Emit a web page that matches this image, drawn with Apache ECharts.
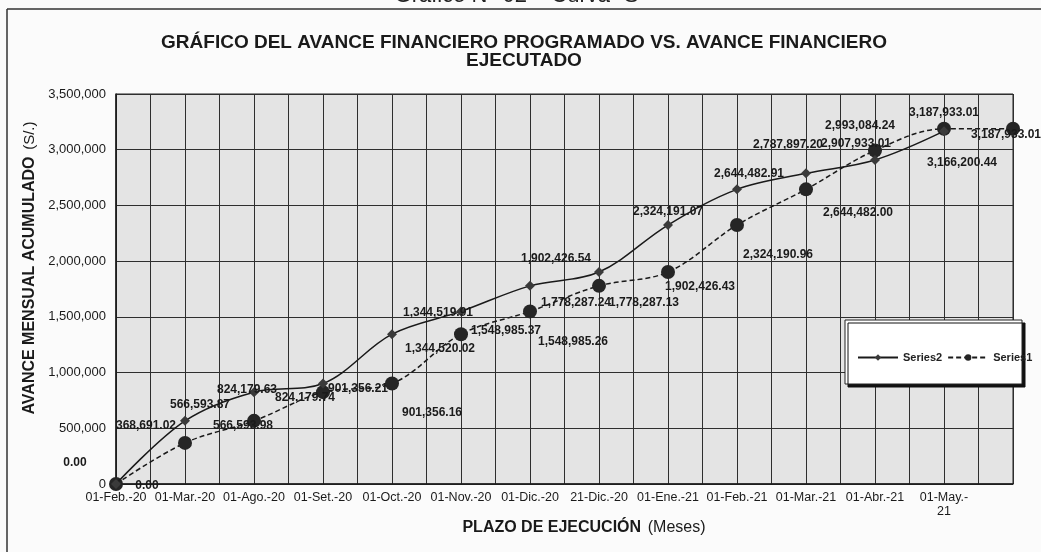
<!DOCTYPE html>
<html>
<head>
<meta charset="utf-8">
<script src="https://cdn.jsdelivr.net/npm/echarts@6/dist/echarts.min.js"></script>
<style>
    html, body { margin: 0; padding: 0; background: #fbfbfb; }
    #chart { width: 1041px; height: 552px; }
</style>
</head>
<body>
<div id="chart"></div>
<script>
// categorías del eje X (la última no lleva etiqueta)
var categories = ['01-Feb.-20', '01-Mar.-20', '01-Ago.-20', '01-Set.-20', '01-Oct.-20', '01-Nov.-20',
    '01-Dic.-20', '21-Dic.-20', '01-Ene.-21', '01-Feb.-21', '01-Mar.-21', '01-Abr.-21', '01-May.-\n21', ''];

// Series2: avance programado (línea continua)
var series2Values = [0, 566593.87, 824179.63, 901356.21, 1344519.91, 1548985.37, 1778287.24,
    1902426.54, 2324191.07, 2644482.91, 2787897.20, 2907933.01, 3166200.44];

// Series1: avance ejecutado (línea discontinua)
var series1Values = [0, 368691.02, 566593.98, 824179.74, 901356.16, 1344520.02, 1548985.26,
    1778287.13, 1902426.43, 2324190.96, 2644482.00, 2993084.24, 3187933.01, 3187933.01];

// desplazamiento de cada etiqueta respecto a su punto
var series2LabelOffset = [[-41, -21], [15, -16], [-7, -2], [35, 5], [46, -21], [45, 19], [46, 17],
    [-43, -13], [0, -13], [12, -16], [-18, -29], [-19, -16], [18, 31]];
var series1LabelOffset = [[31, 2], [-39, -17], [-11, 5], [-18, 6], [40, 29], [-21, 15], [43, 30],
    [45, 17], [32, 15], [41, 30], [52, 23], [-15, -25], [0, -16], [-7, 6]];

var FONT = '"Liberation Sans", Arial, sans-serif';

function money(v) {
    return v.toLocaleString('en-US', { minimumFractionDigits: 2, maximumFractionDigits: 2 });
}

function buildData(values, offsets) {
    return values.map(function (v, i) {
        return { value: [i, v], label: { offset: offsets[i] } };
    });
}

var pointLabel = {
    show: true,
    position: 'inside',
    fontFamily: FONT,
    fontSize: 12,
    fontWeight: 'bold',
    color: '#1a1a1a',
    formatter: function (p) { return money(p.value[1]); }
};

var chart = echarts.init(document.getElementById('chart'));
var option = {
    backgroundColor: '#fbfbfb',
    animation: false,
    title: {
        text: 'GRÁFICO DEL AVANCE FINANCIERO PROGRAMADO VS. AVANCE FINANCIERO\nEJECUTADO',
        left: 519,
        textAlign: 'center',
        top: 29,
        textStyle: { fontFamily: FONT, fontSize: 19, fontWeight: 'bold', color: '#1a1a1a', lineHeight: 18 }
    },
    grid: {
        left: 116, right: 28, top: 94, bottom: 68,
        show: true,
        backgroundColor: '#e4e4e4',
        borderColor: '#222',
        borderWidth: 1
    },
    legend: {
        data: ['Series2', 'Series1'],
        left: 852,
        top: 347,
        itemWidth: 40,
        itemHeight: 8,
        itemGap: 5,
        textStyle: { fontFamily: FONT, fontSize: 11, fontWeight: 'bold', color: '#222' }
    },
    xAxis: {
        type: 'value',
        min: 0,
        max: 13,
        interval: 0.5,
        axisLine: { show: true, lineStyle: { color: '#1a1a1a', width: 1.5 } },
        axisTick: { show: false },
        splitLine: { show: true, lineStyle: { color: '#2e2e2e', width: 1 } },
        axisLabel: {
            margin: 7,
            fontFamily: FONT,
            fontSize: 12.5,
            color: '#1a1a1a',
            lineHeight: 14,
            formatter: function (v) {
                return Number.isInteger(v) ? categories[v] : '';
            }
        }
    },
    yAxis: {
        type: 'value',
        min: 0,
        max: 3500000,
        interval: 500000,
        axisLine: { show: true, lineStyle: { color: '#1a1a1a', width: 1.5 } },
        axisTick: { show: false },
        splitLine: { show: true, lineStyle: { color: '#2e2e2e', width: 1 } },
        axisLabel: {
            margin: 10,
            fontFamily: FONT,
            fontSize: 13,
            color: '#1a1a1a',
            formatter: function (v) { return v === 0 ? '0' : v.toLocaleString('en-US'); }
        }
    },
    series: [{
        name: 'Series2',
        type: 'line',
        smooth: 0.35,
        data: buildData(series2Values, series2LabelOffset),
        symbol: 'diamond',
        symbolSize: 10,
        lineStyle: { color: '#1a1a1a', width: 1.5 },
        itemStyle: { color: '#3a3a3a' },
        label: pointLabel,
        z: 3
    }, {
        name: 'Series1',
        type: 'line',
        smooth: 0.35,
        data: buildData(series1Values, series1LabelOffset),
        symbol: 'circle',
        symbolSize: 14,
        lineStyle: { color: '#1a1a1a', width: 1.5, type: [5, 3] },
        itemStyle: { color: '#252525' },
        label: pointLabel,
        z: 2
    }],
    graphic: [
        // marco del gráfico escaneado
        { type: 'line', shape: { x1: 7, y1: 9, x2: 1041, y2: 9 }, style: { stroke: '#333', lineWidth: 1.5 } },
        { type: 'line', shape: { x1: 7, y1: 9, x2: 7, y2: 552 }, style: { stroke: '#333', lineWidth: 1.5 } },
        {
            type: 'text', left: 'center', top: -15,
            style: { text: 'Gráfico N° 02 – Curva "S"', font: '22px ' + FONT, fill: '#222' }
        },
        // caja de la leyenda
        {
            type: 'rect', z: 3,
            shape: { x: 845, y: 320, width: 177, height: 64 },
            style: { fill: '#fff', stroke: '#222', lineWidth: 1, shadowColor: '#111', shadowOffsetX: 3, shadowOffsetY: 3, shadowBlur: 0 }
        },
        // títulos de los ejes
        {
            type: 'text', x: 30, y: 268, rotation: Math.PI / 2,
            style: {
                text: '{b|AVANCE MENSUAL ACUMULADO}  {n|(S/.)}',
                align: 'center', verticalAlign: 'middle',
                rich: {
                    b: { font: 'bold 16px ' + FONT, fill: '#1a1a1a' },
                    n: { font: '15px ' + FONT, fill: '#1a1a1a' }
                }
            }
        },
        {
            type: 'text', x: 584, y: 528,
            style: {
                text: '{b|PLAZO DE EJECUCIÓN}  {n|(Meses)}',
                align: 'center', verticalAlign: 'middle',
                rich: {
                    b: { font: 'bold 16px ' + FONT, fill: '#1a1a1a' },
                    n: { font: '16px ' + FONT, fill: '#1a1a1a' }
                }
            }
        }
    ]
};
chart.setOption(option);
</script>
</body>
</html>
